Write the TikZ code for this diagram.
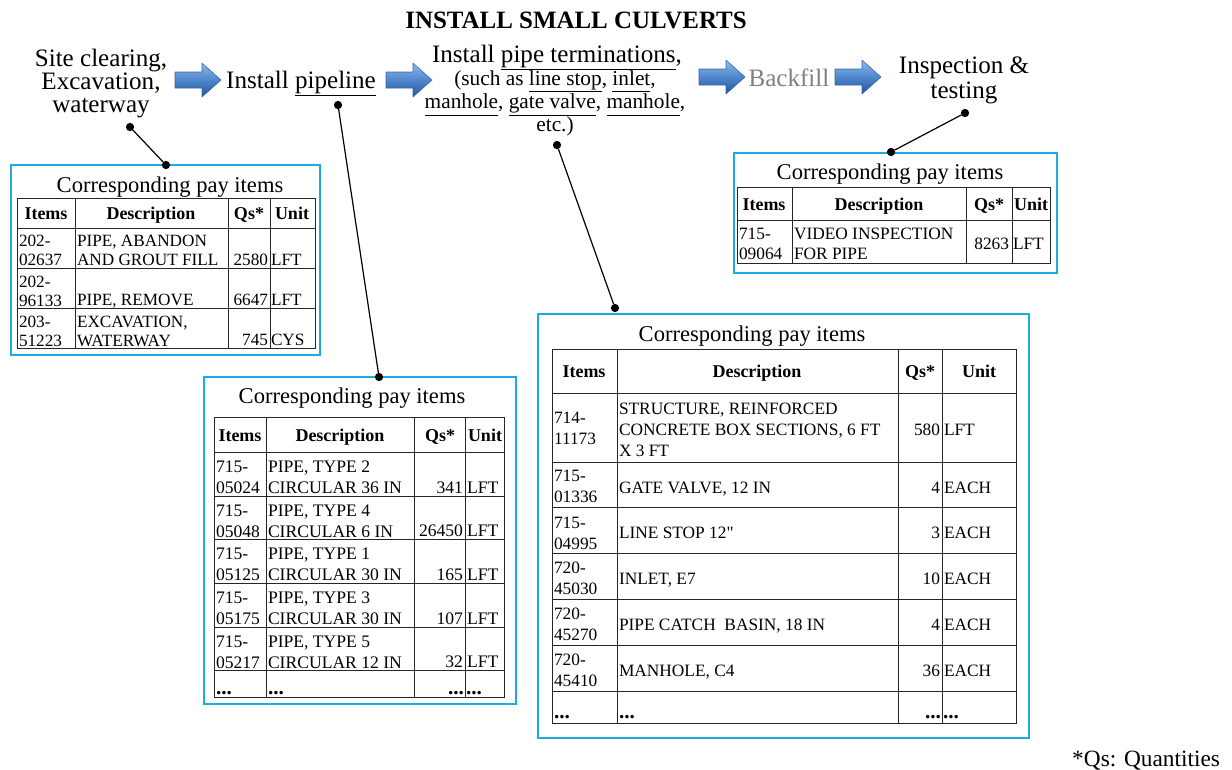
\documentclass[tikz,border=0pt]{standalone}
\usepackage{fontspec}
\setmainfont{Liberation Serif}
\newfontfamily\plainserif{Liberation Serif}
\definecolor{boxblue}{HTML}{1AADE4}
\definecolor{arrowtop}{HTML}{8DBBEA}
\definecolor{arrowmid}{HTML}{4F86CC}
\definecolor{arrowbot}{HTML}{24569E}
\definecolor{arrowedge}{HTML}{3566A8}
\definecolor{backgray}{HTML}{808080}
\newcommand\mytwo[2]{\vtop{\hbox{#1}\hbox{#2}}}
\newcommand\mythree[3]{\vtop{\hbox{#1}\hbox{#2}\hbox{#3}}}
\newcommand\cstack[1]{\vtop{\halign{\hfil##\hfil\cr#1\crcr}}}
\newcommand\ul[1]{\underline{#1\vphantom{gp}}}
\newcommand\bigdots{{\fontsize{16}{16}\selectfont\bfseries ...}}
\begin{document}
\begin{tikzpicture}[x=0.75pt,y=-0.75pt,
  every node/.style={inner sep=0pt,outer sep=0pt},
  paybox/.style={draw=boxblue,line width=1.2pt},
  tblline/.style={draw=black!85,line width=0.75pt},
  pindot/.style={circle,fill=black,minimum size=6.2pt},
  leader/.style={line width=0.9pt},
  arrowbody/.style={top color=arrowtop,bottom color=arrowbot,middle color=arrowmid,
    draw=arrowedge,line width=0.4pt,line join=round},
  flowarr/.pic={\path[arrowbody] (-23,-8) -- (4,-8) -- (4,-17) -- (23,0) -- (4,17) -- (4,8) -- (-23,8) -- cycle;},
  flowtext/.style={font=\fontsize{18.8}{17.3}\selectfont,anchor=base},
  subtext/.style={font=\fontsize{16}{16.3}\selectfont,anchor=base},
  tbltitle/.style={font=\fontsize{16.9}{18}\selectfont,anchor=base},
  hdrtext/.style={font=\fontsize{13.5}{15}\selectfont\bfseries,anchor=base},
  cellA/.style={font=\fontsize{12.9}{14.25}\selectfont},
  cellB/.style={font=\fontsize{13.2}{15.75}\selectfont},
  cellC/.style={font=\fontsize{13}{15.75}\selectfont},
  cellD/.style={font=\fontsize{13}{15}\selectfont},
  lt/.style={anchor=base west},
  rt/.style={anchor=base east}
]
\useasboundingbox (0,0) rectangle (1232,769);

% ---------- title and flow ----------
\node[font=\fontsize{18.7}{20}\selectfont\bfseries,anchor=base] (title) at (576,28) {INSTALL SMALL CULVERTS};

\node[flowtext] (s1) at (101,66) {\cstack{Site clearing,\cr Excavation,\cr waterway}};
\pic (a1) at (198,80) {flowarr};
\node[flowtext] (s2) at (301,88) {Install \underline{pipeline}};
\pic (a2) at (409,80) {flowarr};
\node[flowtext] (s3) at (557,62) {Install \underline{pipe terminations},};
\node[subtext] (s3b) at (555,85) {\cstack{(such as \ul{line stop}, \ul{inlet},\cr \ul{manhole}, \ul{gate valve}, \ul{manhole},\cr etc.)}};
\pic (a3) at (722,77) {flowarr};
\node[flowtext,text=backgray] (s4) at (789,86) {Backfill};
\pic (a4) at (858,77) {flowarr};
\node[flowtext,font=\fontsize{18.8}{18.9}\selectfont] (s5) at (964,73) {\cstack{Inspection \&\cr testing}};

% ---------- pay item boxes ----------
\draw[paybox] (11,165) rectangle (320,355);
\draw[paybox] (204,377) rectangle (516,704);
\draw[paybox] (538,314) rectangle (1029,738);
\draw[paybox] (734,153) rectangle (1057,273);

% ---------- leaders ----------
\node[pindot] (d1a) at (130,127) {};
\node[pindot] (d1b) at (166,165) {};
\node[pindot] (d2a) at (338,105) {};
\node[pindot] (d2b) at (379,377) {};
\node[pindot] (d3a) at (557,145) {};
\node[pindot] (d3b) at (615,308) {};
\node[pindot] (d4a) at (965,113) {};
\node[pindot] (d4b) at (891,152) {};
\draw[leader] (d1a) -- (d1b);
\draw[leader] (d2a) -- (d2b);
\draw[leader] (d3a) -- (d3b);
\draw[leader] (d4a) -- (d4b);

% ---------- table 1 ----------
\node[tbltitle] (t1t) at (170,192) {Corresponding pay items};
\draw[tblline] (17,198) rectangle (315,348);
\foreach \x in {75,228,270} \draw[tblline] (\x,198) -- (\x,348);
\foreach \y in {228,268,308} \draw[tblline] (17,\y) -- (315,\y);
\node[hdrtext] (t1h1) at (46,219) {Items};
\node[hdrtext] (t1h2) at (151,219) {Description};
\node[hdrtext] (t1h3) at (249,219) {Qs*};
\node[hdrtext] (t1h4) at (292,219) {Unit};
\begin{scope}[every node/.append style={cellA}]
\node[lt] (t1a1) at (19,246) {\mytwo{202-}{02637}};
\node[lt] (t1b1) at (77,246) {\mytwo{PIPE, ABANDON}{AND GROUT FILL}};
\node[rt] (t1c1) at (268,265) {2580};
\node[lt] (t1d1) at (271,265) {LFT};
\node[lt] (t1a2) at (19,287) {\mytwo{202-}{96133}};
\node[lt] (t1b2) at (77,305) {PIPE, REMOVE};
\node[rt] (t1c2) at (268,305) {6647};
\node[lt] (t1d2) at (271,305) {LFT};
\node[lt] (t1a3) at (19,327) {\mytwo{203-}{51223}};
\node[lt] (t1b3) at (77,327) {\mytwo{EXCAVATION,}{WATERWAY}};
\node[rt] (t1c3) at (268,345) {745};
\node[lt] (t1d3) at (271,345) {CYS};
\end{scope}

% ---------- table 2 ----------
\node[tbltitle] (t2t) at (352,403) {Corresponding pay items};
\draw[tblline] (214,417) rectangle (504,697);
\foreach \x in {266,414,465} \draw[tblline] (\x,417) -- (\x,697);
\foreach \y in {452,496,539,583,627,670} \draw[tblline] (214,\y) -- (504,\y);
\node[hdrtext] (t2h1) at (240,441) {Items};
\node[hdrtext] (t2h2) at (340,441) {Description};
\node[hdrtext] (t2h3) at (440,441) {Qs*};
\node[hdrtext] (t2h4) at (485,441) {Unit};
\begin{scope}[every node/.append style={cellB}]
\node[lt] (t2a1) at (216,472) {\mytwo{715-}{05024}};
\node[lt] (t2b1) at (268,472) {\mytwo{PIPE, TYPE 2}{CIRCULAR 36 IN}};
\node[rt] (t2c1) at (463,493) {341};
\node[lt] (t2d1) at (467,493) {LFT};
\node[lt] (t2a2) at (216,516) {\mytwo{715-}{05048}};
\node[lt] (t2b2) at (268,516) {\mytwo{PIPE, TYPE 4}{CIRCULAR 6 IN}};
\node[rt] (t2c2) at (463,536) {26450};
\node[lt] (t2d2) at (467,536) {LFT};
\node[lt] (t2a3) at (216,559) {\mytwo{715-}{05125}};
\node[lt] (t2b3) at (268,559) {\mytwo{PIPE, TYPE 1}{CIRCULAR 30 IN}};
\node[rt] (t2c3) at (463,580) {165};
\node[lt] (t2d3) at (467,580) {LFT};
\node[lt] (t2a4) at (216,603) {\mytwo{715-}{05175}};
\node[lt] (t2b4) at (268,603) {\mytwo{PIPE, TYPE 3}{CIRCULAR 30 IN}};
\node[rt] (t2c4) at (463,624) {107};
\node[lt] (t2d4) at (467,624) {LFT};
\node[lt] (t2a5) at (216,647) {\mytwo{715-}{05217}};
\node[lt] (t2b5) at (268,647) {\mytwo{PIPE, TYPE 5}{CIRCULAR 12 IN}};
\node[rt] (t2c5) at (463,667) {32};
\node[lt] (t2d5) at (467,667) {LFT};
\node[lt] (t2a6) at (216,694) {\bigdots};
\node[lt] (t2b6) at (268,694) {\bigdots};
\node[rt] (t2c6) at (464,694) {\bigdots};
\node[lt] (t2d6) at (466,694) {\bigdots};
\end{scope}

% ---------- table 3 ----------
\node[tbltitle] (t3t) at (752,341) {Corresponding pay items};
\draw[tblline] (552,349) rectangle (1016,723);
\foreach \x in {617,898,942} \draw[tblline] (\x,349) -- (\x,723);
\foreach \y in {393,462,507,553,599,645,691} \draw[tblline] (552,\y) -- (1016,\y);
\node[hdrtext] (t3h1) at (584,377) {Items};
\node[hdrtext] (t3h2) at (757,377) {Description};
\node[hdrtext] (t3h3) at (920,377) {Qs*};
\node[hdrtext] (t3h4) at (979,377) {Unit};
\begin{scope}[every node/.append style={cellC}]
\node[lt] (t3a1) at (554,423) {\mytwo{714-}{11173}};
\node[lt] (t3b1) at (619,414) {\mythree{STRUCTURE, REINFORCED}{CONCRETE BOX SECTIONS, 6 FT}{X 3 FT}};
\node[rt] (t3c1) at (940,435) {580};
\node[lt] (t3d1) at (944,435) {LFT};
\node[lt] (t3a2) at (554,481) {\mytwo{715-}{01336}};
\node[lt] (t3b2) at (619,493) {GATE VALVE, 12 IN};
\node[rt] (t3c2) at (940,493) {4};
\node[lt] (t3d2) at (944,493) {EACH};
\node[lt] (t3a3) at (554,528) {\mytwo{715-}{04995}};
\node[lt] (t3b3) at (619,538) {LINE STOP 12{\plainserif "}};
\node[rt] (t3c3) at (940,538) {3};
\node[lt] (t3d3) at (944,538) {EACH};
\node[lt] (t3a4) at (554,573) {\mytwo{720-}{45030}};
\node[lt] (t3b4) at (619,584) {INLET, E7};
\node[rt] (t3c4) at (940,584) {10};
\node[lt] (t3d4) at (944,584) {EACH};
\node[lt] (t3a5) at (554,619) {\mytwo{720-}{45270}};
\node[lt] (t3b5) at (619,630) {PIPE CATCH\ \ BASIN, 18 IN};
\node[rt] (t3c5) at (940,630) {4};
\node[lt] (t3d5) at (944,630) {EACH};
\node[lt] (t3a6) at (554,665) {\mytwo{720-}{45410}};
\node[lt] (t3b6) at (619,676) {MANHOLE, C4};
\node[rt] (t3c6) at (940,676) {36};
\node[lt] (t3d6) at (944,676) {EACH};
\node[lt] (t3a7) at (554,718) {\bigdots};
\node[lt] (t3b7) at (619,718) {\bigdots};
\node[rt] (t3c7) at (941,718) {\bigdots};
\node[lt] (t3d7) at (943,718) {\bigdots};
\end{scope}

% ---------- table 4 ----------
\node[tbltitle] (t4t) at (890,179) {Corresponding pay items};
\draw[tblline] (737,187) rectangle (1050,263);
\foreach \x in {792,966,1012} \draw[tblline] (\x,187) -- (\x,263);
\draw[tblline] (737,220) -- (1050,220);
\node[hdrtext] (t4h1) at (764,210) {Items};
\node[hdrtext] (t4h2) at (879,210) {Description};
\node[hdrtext] (t4h3) at (989,210) {Qs*};
\node[hdrtext] (t4h4) at (1031,210) {Unit};
\begin{scope}[every node/.append style={cellD}]
\node[lt] (t4a1) at (739,239) {\mytwo{715-}{09064}};
\node[lt] (t4b1) at (794,239) {\mytwo{VIDEO INSPECTION}{FOR PIPE}};
\node[rt] (t4c1) at (1009,249) {8263};
\node[lt] (t4d1) at (1013,249) {LFT};
\end{scope}

% ---------- footnote ----------
\node[font=\fontsize{17.5}{19}\selectfont,anchor=base east] (foot) at (1220,766) {*Qs: Quantities};
\end{tikzpicture}
\end{document}
